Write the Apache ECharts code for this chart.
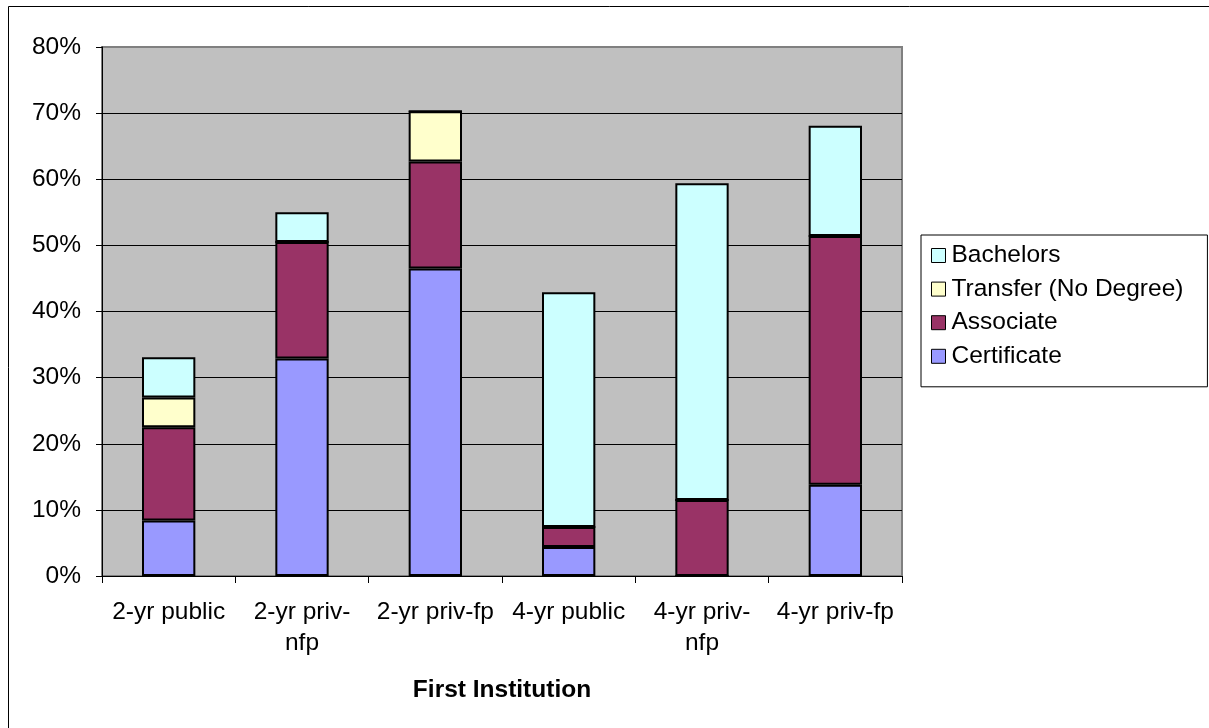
<!DOCTYPE html>
<html>
<head>
<meta charset="utf-8">
<script src="https://cdn.jsdelivr.net/npm/echarts@6/dist/echarts.min.js"></script>
<style>
html,body{margin:0;padding:0;background:#fff;}
#c{width:1209px;height:728px;}
</style>
</head>
<body>
<div id="c"></div>
<script>
var categories = ['2-yr public', '2-yr priv-nfp', '2-yr priv-fp', '4-yr public', '4-yr priv-nfp', '4-yr priv-fp'];
var certificate = [8.4, 32.9, 46.5, 4.4, 0, 13.8];
var associate = [14.1, 17.6, 16.2, 3.0, 11.5, 37.6];
var transfer = [4.5, 0, 7.6, 0, 0, 0];
var bachelors = [6.1, 4.5, 0, 35.5, 47.9, 16.7];
var yTicks = [0, 10, 20, 30, 40, 50, 60, 70, 80];
var legendOrder = ['Bachelors', 'Transfer (No Degree)', 'Associate', 'Certificate'];

var FONT = 'Liberation Sans, Arial, sans-serif';
var FS = 24.5;
var chart = echarts.init(document.getElementById('c'));

function bar(name, data, color) {
  return {
    name: name, type: 'bar', stack: 'total', data: data,
    barWidth: '40%',
    itemStyle: { color: color, borderColor: '#000', borderWidth: 2 },
    emphasis: { disabled: true }
  };
}

chart.setOption({
  animation: false,
  backgroundColor: '#ffffff',
  textStyle: { fontFamily: FONT },
  graphic: [{
    type: 'rect', shape: { x: 8.5, y: 6.5, width: 1400, height: 900 },
    style: { fill: 'none', stroke: '#000', lineWidth: 1 }, silent: true, z: -1
  }],
  grid: {
    left: 102, top: 47, right: 307, bottom: 152,
    show: true, backgroundColor: '#c0c0c0', borderColor: '#808080', borderWidth: 2
  },
  legend: {
    orient: 'vertical', left: 921, top: 235,
    data: legendOrder,
    icon: 'rect', itemWidth: 14, itemHeight: 14, itemGap: 8.6,
    padding: [8, 24, 18, 10],
    borderColor: '#000', borderWidth: 1, backgroundColor: '#fff',
    itemStyle: { borderColor: '#000', borderWidth: 1 },
    textStyle: { fontFamily: FONT, fontSize: FS, color: '#000', padding: [0, 0, 0, 1] },
    selectedMode: false
  },
  xAxis: {
    type: 'category', data: categories,
    name: 'First Institution', nameLocation: 'middle', nameGap: 102,
    nameTextStyle: { fontFamily: FONT, fontSize: FS, fontWeight: 'bold', color: '#000' },
    axisLine: { lineStyle: { color: '#000', width: 1 } },
    axisTick: { show: true, alignWithLabel: false, length: 7, lineStyle: { color: '#000' } },
    axisLabel: {
      fontFamily: FONT, fontSize: FS, color: '#000', margin: 21, lineHeight: 31, interval: 0,
      formatter: function (v) { return v.replace('priv-nfp', 'priv-\nnfp'); }
    },
    splitLine: { show: false }
  },
  yAxis: {
    type: 'value', min: 0, max: 80, interval: 10,
    axisLine: { show: true, lineStyle: { color: '#000', width: 1 } },
    axisTick: { show: true, length: 6, lineStyle: { color: '#000' } },
    axisLabel: {
      fontFamily: FONT, fontSize: FS, color: '#000', margin: 21,
      formatter: function (v) { return yTicks.indexOf(v) >= 0 ? v + '%' : ''; }
    },
    splitLine: { show: true, showMinLine: false, showMaxLine: false, lineStyle: { color: '#000', width: 1 } }
  },
  series: [
    bar('Certificate', certificate, '#9999ff'),
    bar('Associate', associate, '#993366'),
    bar('Transfer (No Degree)', transfer, '#ffffcc'),
    bar('Bachelors', bachelors, '#ccffff')
  ]
});
</script>
</body>
</html>
